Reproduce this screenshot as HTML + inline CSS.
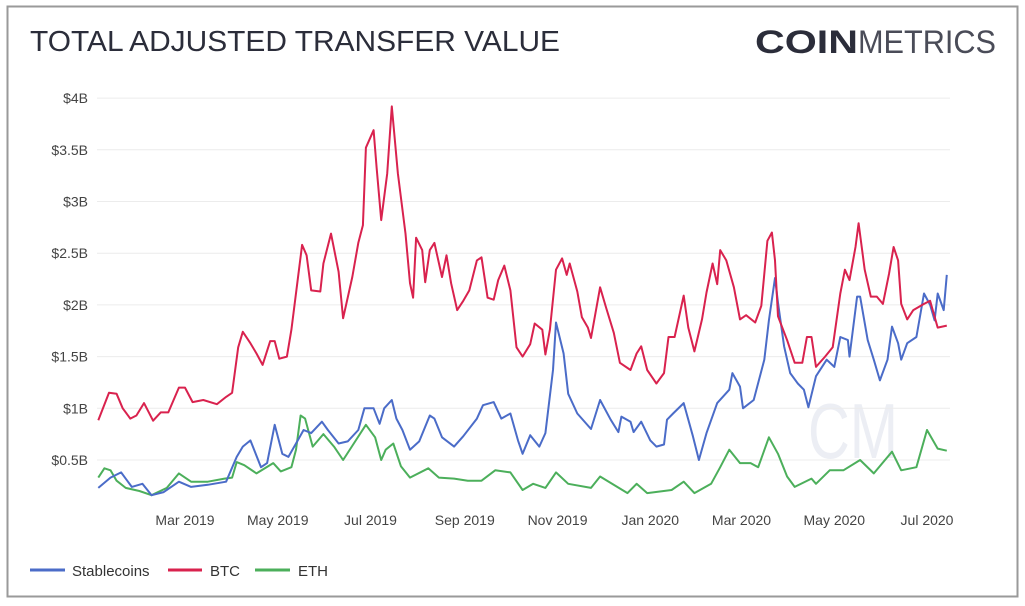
<!DOCTYPE html>
<html><head><meta charset="utf-8"><style>
html,body{margin:0;padding:0;background:#fff;width:1025px;height:606px;overflow:hidden}
svg{display:block;font-family:"Liberation Sans",sans-serif}
</style></head><body>
<svg id="chart" width="1025" height="606">
<rect x="7.5" y="6.5" width="1010" height="590" fill="#fff" stroke="#9a9a9a" stroke-width="2"/>
<text x="30" y="51" font-size="29" fill="#2b2d3a" textLength="530" lengthAdjust="spacingAndGlyphs">TOTAL ADJUSTED TRANSFER VALUE</text>
<text x="755" y="53" font-size="32" fill="#2b2d3a"><tspan font-weight="bold" textLength="103" lengthAdjust="spacingAndGlyphs">COIN</tspan><tspan textLength="138" lengthAdjust="spacingAndGlyphs" font-weight="normal" fill="#4a4c58">METRICS</tspan></text>
<text x="808" y="458" font-size="78" fill="#eceef4" textLength="90" lengthAdjust="spacingAndGlyphs">CM</text>
<g id="grid"></g><g id="yaxis"></g><g id="xaxis"></g><g id="series"></g>
<g>
<g><line x1="30" y1="570" x2="65" y2="570" stroke="#4b6cc8" stroke-width="3"/><text x="72" y="576" font-size="15" fill="#333">Stablecoins</text></g>
<g><line x1="168" y1="570" x2="202" y2="570" stroke="#d9224e" stroke-width="3"/><text x="210" y="576" font-size="15" fill="#333">BTC</text></g>
<g><line x1="255" y1="570" x2="290" y2="570" stroke="#4caf5b" stroke-width="3"/><text x="298" y="576" font-size="15" fill="#333">ETH</text></g>
</g>
</svg>
<script>
const yTicks=[0.5,1,1.5,2,2.5,3,3.5,4];
const yTickLabels=["$0.5B","$1B","$1.5B","$2B","$2.5B","$3B","$3.5B","$4B"];
const xTickDays=[59,120,181,243,304,365,425,486,547];
const xTickLabels=["Mar 2019","May 2019","Jul 2019","Sep 2019","Nov 2019","Jan 2020","Mar 2020","May 2020","Jul 2020"];
const btcDays=[2,9,14,18,23,27,32,38,43,48,55,59,64,71,80,86,90,94,97,102,106,110,115,118,121,126,129,136,139,142,148,150,155,160,163,169,173,176,178,183,185,188,192,195,199,204,207,209,211,215,217,220,223,228,231,234,238,242,246,251,254,258,262,265,269,273,277,281,286,289,294,296,299,303,307,310,312,317,320,324,326,332,336,341,345,352,356,359,363,369,374,377,381,387,390,394,399,402,406,409,411,415,420,424,428,434,438,442,445,447,449,455,460,465,468,471,474,480,485,490,493,496,500,502,506,510,514,518,522,525,528,530,534,538,545,549,554,560];
const btcVals=[0.885,1.15,1.14,1.0,0.9,0.93,1.05,0.88,0.96,0.96,1.2,1.2,1.06,1.08,1.04,1.11,1.15,1.59,1.74,1.63,1.53,1.42,1.65,1.65,1.48,1.5,1.76,2.58,2.48,2.14,2.13,2.4,2.69,2.32,1.87,2.27,2.6,2.77,3.52,3.69,3.33,2.82,3.27,3.92,3.27,2.69,2.21,2.07,2.65,2.53,2.22,2.53,2.6,2.27,2.48,2.21,1.95,2.04,2.14,2.43,2.46,2.07,2.05,2.24,2.38,2.14,1.59,1.5,1.62,1.82,1.76,1.52,1.76,2.34,2.45,2.29,2.4,2.13,1.88,1.78,1.68,2.17,1.97,1.73,1.44,1.37,1.53,1.6,1.37,1.24,1.34,1.69,1.69,2.09,1.78,1.55,1.86,2.12,2.4,2.2,2.53,2.43,2.17,1.86,1.9,1.83,1.99,2.62,2.7,2.43,1.89,1.66,1.44,1.44,1.69,1.69,1.4,1.5,1.59,2.11,2.34,2.24,2.56,2.79,2.34,2.08,2.08,2.01,2.3,2.56,2.43,2.01,1.86,1.95,2.01,2.04,1.78,1.8];
const stableDays=[2,10,17,24,31,37,45,55,63,74,86,93,97,102,109,113,118,123,127,132,137,142,149,153,160,166,173,177,183,187,190,195,198,202,207,213,220,223,228,236,242,251,255,262,267,273,278,281,286,292,296,301,303,308,311,317,326,332,339,344,346,352,354,359,365,369,374,376,380,387,393,397,402,409,417,419,424,426,433,440,443,447,449,453,457,462,466,469,474,481,486,490,495,496,501,503,508,512,516,521,524,528,530,534,540,545,549,552,554,558,560];
const stableVals=[0.23,0.33,0.38,0.24,0.27,0.16,0.19,0.29,0.24,0.26,0.29,0.53,0.63,0.69,0.43,0.47,0.84,0.56,0.53,0.66,0.79,0.76,0.87,0.79,0.66,0.68,0.79,1.0,1.0,0.85,1.0,1.08,0.9,0.79,0.6,0.68,0.93,0.9,0.72,0.63,0.73,0.9,1.03,1.06,0.9,0.95,0.69,0.56,0.74,0.63,0.76,1.37,1.83,1.53,1.14,0.95,0.8,1.08,0.89,0.77,0.92,0.87,0.77,0.87,0.69,0.63,0.65,0.89,0.95,1.05,0.73,0.5,0.76,1.05,1.18,1.34,1.21,1.0,1.08,1.47,1.85,2.26,2.02,1.6,1.34,1.24,1.18,1.01,1.31,1.47,1.4,1.69,1.66,1.5,2.08,2.08,1.66,1.47,1.27,1.47,1.79,1.63,1.47,1.63,1.69,2.11,2.0,1.85,2.11,1.95,2.29];
const ethDays=[2,6,10,14,20,29,37,47,55,63,74,85,90,93,98,106,117,122,129,132,135,138,143,150,157,163,170,178,184,188,191,196,201,207,219,226,236,245,254,263,273,281,288,296,303,311,326,332,350,356,363,379,387,394,405,411,417,424,431,436,443,449,455,460,471,474,483,492,503,512,524,530,540,547,554,560];
const ethVals=[0.33,0.42,0.4,0.3,0.23,0.2,0.16,0.23,0.37,0.29,0.29,0.32,0.33,0.48,0.45,0.37,0.47,0.39,0.43,0.6,0.93,0.9,0.63,0.75,0.63,0.5,0.66,0.84,0.72,0.5,0.6,0.66,0.44,0.33,0.42,0.33,0.32,0.3,0.3,0.4,0.38,0.21,0.27,0.23,0.38,0.27,0.23,0.34,0.18,0.27,0.18,0.21,0.29,0.18,0.27,0.43,0.6,0.47,0.47,0.43,0.72,0.56,0.34,0.24,0.32,0.27,0.4,0.4,0.5,0.37,0.58,0.4,0.43,0.79,0.61,0.59];

const NS="http://www.w3.org/2000/svg";
function xScale(d){return 95.3+d*1.5205;}
function yScale(v){return 511.7-v*103.4;}
function mk(tag,attrs,parent){const e=document.createElementNS(NS,tag);for(const k in attrs)e.setAttribute(k,attrs[k]);parent.appendChild(e);return e;}
const grid=document.getElementById('grid'),ya=document.getElementById('yaxis'),xa=document.getElementById('xaxis'),ser=document.getElementById('series');
yTicks.forEach((t,i)=>{
  const l=mk('line',{x1:97,x2:950,y1:yScale(t),y2:yScale(t),stroke:'#ececec','stroke-width':1},grid);
  
  
  const tx=mk('text',{x:88,y:yScale(t)+5,'text-anchor':'end','font-size':14,fill:'#444'},ya);
  tx.textContent=yTickLabels[i];
  
  
});
xTickDays.forEach((d,i)=>{
  const tx=mk('text',{x:xScale(d),y:525,'text-anchor':'middle','font-size':14,fill:'#444'},xa);
  tx.textContent=xTickLabels[i];
  
  
});
function line(days,vals,color,name){
  const d=days.map((x,i)=>(i?'L':'M')+xScale(x).toFixed(1)+' '+yScale(vals[i]).toFixed(1)).join(' ');
  const p=mk('path',{d:d,fill:'none',stroke:color,'stroke-width':2,'stroke-linejoin':'round'},ser);
  
  
}
line(ethDays,ethVals,'#4caf5b','eth-line');
line(stableDays,stableVals,'#4b6cc8','stablecoins-line');
line(btcDays,btcVals,'#d9224e','btc-line');
</script>
</body></html>
